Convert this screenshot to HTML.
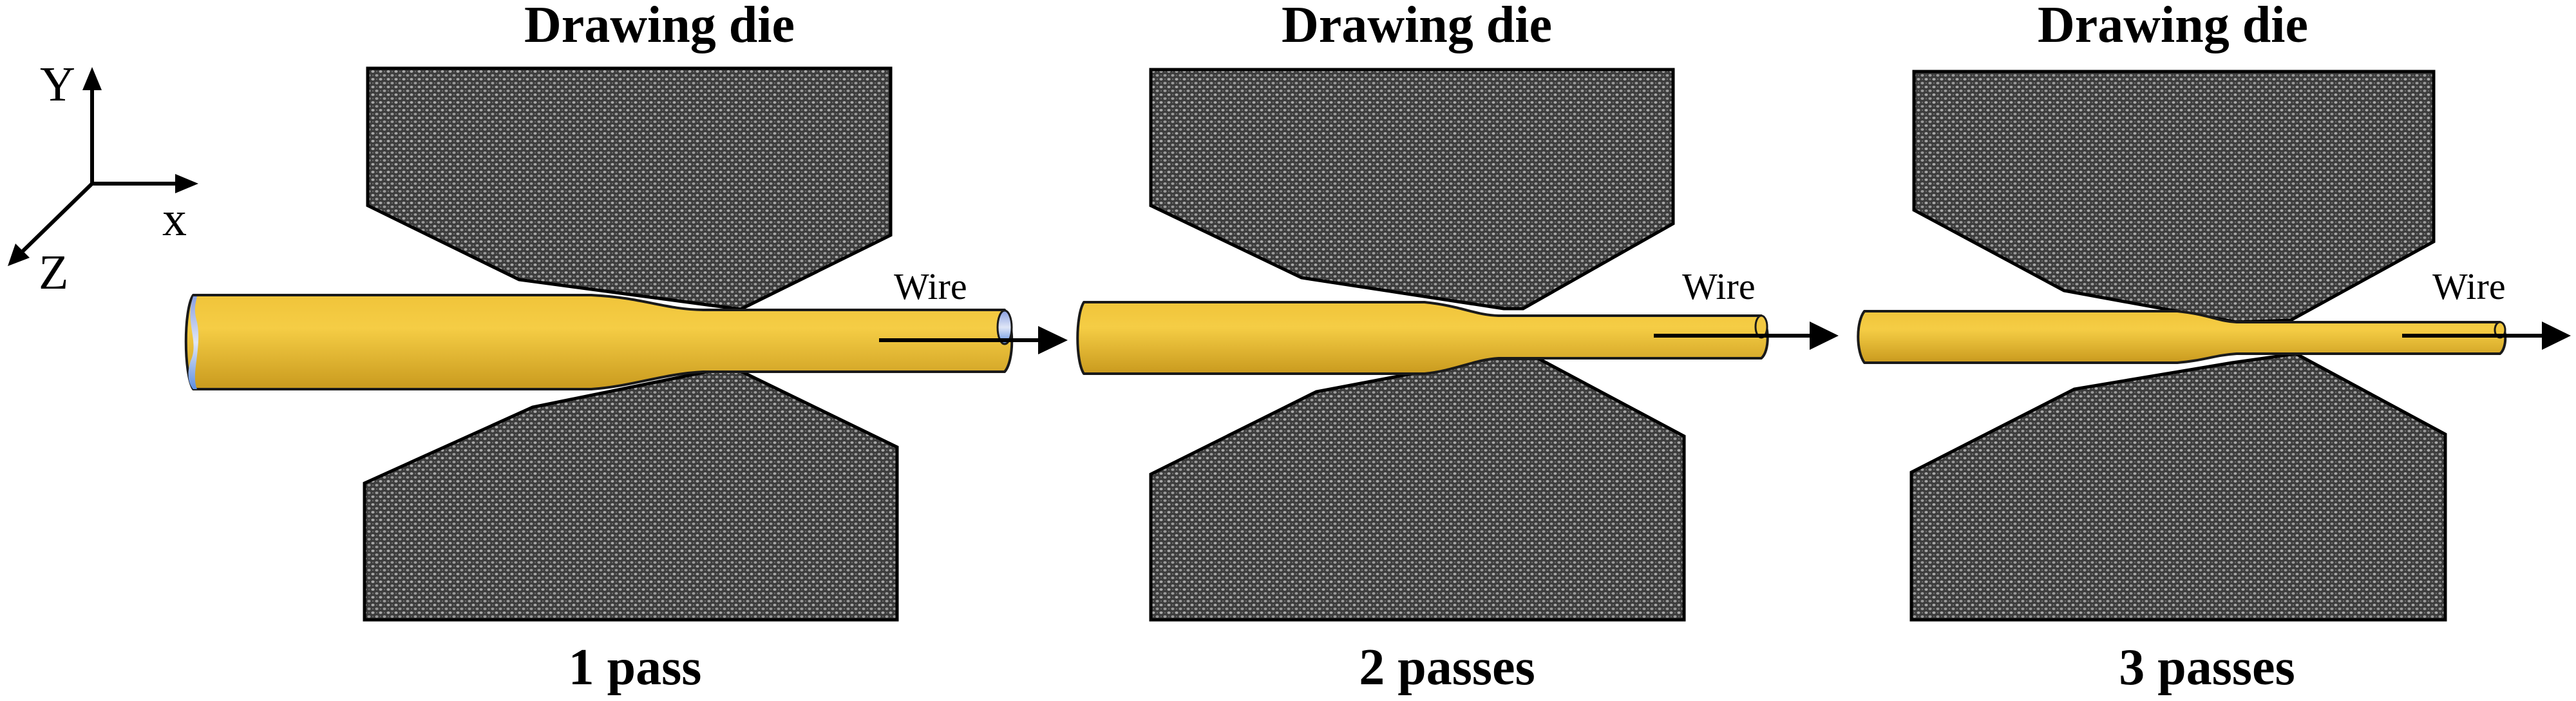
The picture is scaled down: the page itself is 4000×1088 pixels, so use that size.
<!DOCTYPE html>
<html><head><meta charset="utf-8"><style>html,body{margin:0;padding:0;background:#fff}svg{display:block}</style></head>
<body>
<svg width="4000" height="1088" viewBox="0 0 4000 1088" xmlns="http://www.w3.org/2000/svg">
<defs>
<pattern id="tex" width="12" height="12" patternUnits="userSpaceOnUse">
<rect width="12" height="12" fill="#3c3c3c"/>
<ellipse cx="3" cy="3" rx="2.6" ry="2" fill="#a8a8a8"/>
<ellipse cx="9" cy="9" rx="2.6" ry="2" fill="#9a9a9a"/>
<circle cx="9" cy="3" r="1.2" fill="#6a6a6a"/>
<circle cx="3" cy="9" r="1.2" fill="#6a6a6a"/>
</pattern>
<linearGradient id="gold" x1="0" y1="0" x2="0" y2="1">
<stop offset="0" stop-color="#f0c43a"/><stop offset="0.35" stop-color="#f5cd45"/><stop offset="1" stop-color="#c99a1e"/>
</linearGradient>
<linearGradient id="blue" x1="0" y1="0" x2="0" y2="1">
<stop offset="0" stop-color="#8aa0e0"/><stop offset="0.5" stop-color="#dfe6f7"/><stop offset="1" stop-color="#5f8fe0"/>
</linearGradient>
</defs>
<g font-family="Liberation Serif, serif" fill="#000">
<text x="1024" y="65" font-size="80" font-weight="bold" text-anchor="middle">Drawing die</text>
<text x="2200" y="65" font-size="80" font-weight="bold" text-anchor="middle">Drawing die</text>
<text x="3374" y="65" font-size="80" font-weight="bold" text-anchor="middle">Drawing die</text>
<text x="986" y="1062" font-size="80" font-weight="bold" text-anchor="middle">1 pass</text>
<text x="2247" y="1062" font-size="80" font-weight="bold" text-anchor="middle">2 passes</text>
<text x="3427" y="1062" font-size="80" font-weight="bold" text-anchor="middle">3 passes</text>
<text x="1388" y="464" font-size="58">Wire</text>
<text x="2612" y="464" font-size="58">Wire</text>
<text x="3777" y="464" font-size="58">Wire</text>
<text x="62" y="156" font-size="76">Y</text>
<text x="252" y="365" font-size="76">x</text>
<text x="60" y="448" font-size="76">Z</text>
</g>
<g stroke="#000" stroke-width="6" fill="none">
<line x1="143" y1="285" x2="143" y2="130"/>
<line x1="143" y1="285" x2="280" y2="285"/>
<line x1="143" y1="285" x2="30" y2="395"/>
</g>
<polygon points="143,104 128,140 158,140" fill="#000"/>
<polygon points="308,285 272,270 272,300" fill="#000"/>
<polygon points="12,413 24,378 46,400" fill="#000"/>
<g fill="url(#tex)" stroke="#000" stroke-width="5" stroke-linejoin="miter">
<polygon points="571,106 1383,106 1383,365 1150,480 806,434 571,319"/>
<polygon points="566,962 566,750 827,632 1102,576 1150,576 1393,694 1393,962"/>
<polygon points="1787,108 2598,108 2598,347 2365,479 2335,479 2021,431 1787,319"/>
<polygon points="1787,962 1787,736 2044,608 2319,556 2388,556 2615,677 2615,962"/>
<polygon points="2972,111 3779,111 3779,375 3557,497 3473,500 3205,451 2972,326"/>
<polygon points="2968,962 2968,733 3221,604 3466,563 3565,549 3797,674 3797,962"/>
</g>
<g stroke="#1a1a1a" stroke-width="4" stroke-linejoin="round">
<path d="M300,458 L918,458 C1000,462 1030,480 1092,481 L1560,481 C1575,500 1575,560 1560,577 L1092,577 C1030,580 980,600 918,604 L300,604 C285,580 285,480 300,458 Z" fill="url(#gold)"/>
<path d="M1683,469 L2212,469 C2270,475 2290,489 2327,490 L2735,490 C2748,505 2748,545 2735,556 L2327,556 C2290,558 2260,575 2212,580 L1683,580 C1670,560 1670,490 1683,469 Z" fill="url(#gold)"/>
<path d="M2895,483 L3381,483 C3430,488 3445,499 3473,500 L3882,500 C3893,510 3893,540 3882,549 L3473,549 C3440,551 3420,560 3381,563 L2895,563 C2882,545 2882,500 2895,483 Z" fill="url(#gold)"/>
</g>
<ellipse cx="1560" cy="508" rx="11" ry="26" fill="url(#blue)" stroke="#1a1a1a" stroke-width="3"/>
<path d="M300,460 C286,500 310,530 296,560 C290,580 292,595 300,604 L306,604 C296,580 314,540 306,500 C300,480 304,470 306,460 Z" fill="url(#blue)"/>
<ellipse cx="2735" cy="507" rx="9" ry="17" fill="#f2c840" stroke="#1a1a1a" stroke-width="3"/>
<ellipse cx="3882" cy="512" rx="8" ry="12" fill="#f2c840" stroke="#1a1a1a" stroke-width="3"/>
<g stroke="#000" stroke-width="6">
<line x1="1365" y1="528" x2="1615" y2="528"/>
<line x1="2568" y1="521" x2="2820" y2="521"/>
<line x1="3730" y1="521" x2="3960" y2="521"/>
</g>
<g fill="#000">
<polygon points="1658,528 1612,506 1612,550"/>
<polygon points="2855,521 2810,499 2810,543"/>
<polygon points="3992,521 3947,499 3947,543"/>
</g>
</svg>
</body></html>
